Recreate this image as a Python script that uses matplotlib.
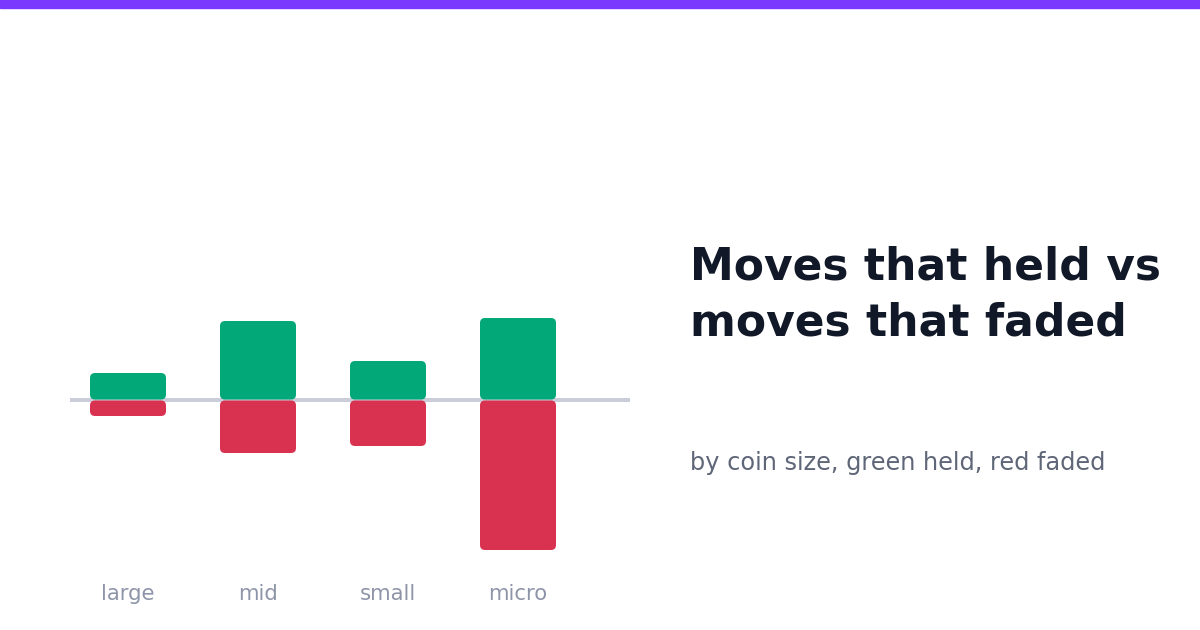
import matplotlib
matplotlib.use("Agg")
import matplotlib.pyplot as plt
from matplotlib.patches import FancyBboxPatch, Rectangle

# Data
categories = ["large", "mid", "small", "micro"]
held = [27, 79, 39, 82]
faded = [16, 53, 46, 150]

title = "Moves that held vs\nmoves that faded"
subtitle = "by coin size, green held, red faded"

GREEN = "#02a878"
RED = "#d93250"
BASE = "#cbceda"
LABEL = "#8e95a8"
TITLE_C = "#111827"
SUB_C = "#5f6678"
TOP = "#7a38ff"

W, H, DPI = 1200, 630, 100
fig = plt.figure(figsize=(W / DPI, H / DPI), dpi=DPI)
fig.patch.set_facecolor("white")

# top accent bar
fig.patches.append(Rectangle((0, 1 - 7.5 / H), 1, 7.5 / H, transform=fig.transFigure,
                             color=TOP, zorder=5))

# chart axes: x px 70..630, y px 300..560 (baseline at 400)
ax_left, ax_right = 70, 630
ax_top, ax_bot = 300, 560
ax = fig.add_axes([ax_left / W, 1 - ax_bot / H, (ax_right - ax_left) / W, (ax_bot - ax_top) / H])
ax.set_axis_off()
spacing = 130.0
first_center = 128.0
ax.set_xlim((ax_left - first_center) / spacing, (ax_right - first_center) / spacing)
ax.set_ylim(-(ax_bot - 400), 400 - ax_top)

x = list(range(len(categories)))
width = 76 / spacing
ax.axhline(0, color=BASE, lw=4 * 72 / DPI, zorder=1)

gb = ax.bar(x, held, width=width, color=GREEN, zorder=2)
rb = ax.bar(x, [-v for v in faded], width=width, color=RED, zorder=2)

radius_px = 5
r = radius_px / spacing
for p in list(gb) + list(rb):
    bx, by = p.get_x(), p.get_y()
    bw, bh = p.get_width(), p.get_height()
    if bh < 0:
        by, bh = by + bh, -bh
    # leave tiny gap at baseline
    if by >= 0:
        by, bh = by + 0.5, bh - 0.5
    else:
        bh = bh - 0.5
    fb = FancyBboxPatch((bx, by), bw, bh,
                        boxstyle=f"round,pad=0,rounding_size={r}",
                        mutation_aspect=spacing,
                        fc=p.get_facecolor(), ec="none", zorder=3)
    ax.add_patch(fb)
    p.set_visible(False)

for xi, lab in zip(x, categories):
    ax.annotate(lab, xy=(xi, 0), xycoords=("data", "axes fraction"),
                xytext=(0, -(600 - ax_bot) * 72 / DPI), textcoords="offset points",
                ha="center", va="baseline", fontsize=15.3, color=LABEL,
                family="DejaVu Sans", annotation_clip=False)

fig.text(690 / W, 1 - 280 / H, "Moves that held vs", fontsize=31.7, fontweight="bold",
         color=TITLE_C, ha="left", va="baseline", family="DejaVu Sans")
fig.text(690 / W, 1 - 336 / H, "moves that faded", fontsize=31.7, fontweight="bold",
         color=TITLE_C, ha="left", va="baseline", family="DejaVu Sans")
fig.text(690 / W, 1 - 470 / H, subtitle, fontsize=17.3, color=SUB_C,
         ha="left", va="baseline", family="DejaVu Sans")

fig.savefig("out.png", dpi=DPI, facecolor="white")
